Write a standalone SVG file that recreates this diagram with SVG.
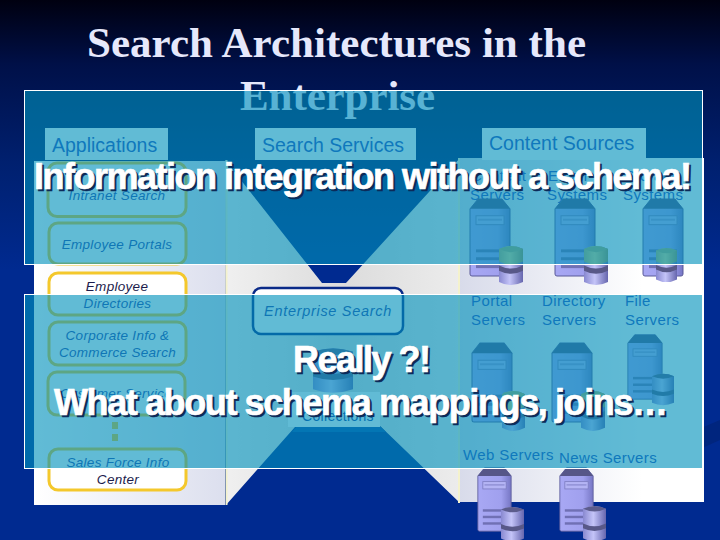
<svg xmlns="http://www.w3.org/2000/svg" xmlns:xlink="http://www.w3.org/1999/xlink" width="720" height="540" viewBox="0 0 720 540">
<defs>
<linearGradient id="bg" x1="0" y1="0" x2="0" y2="1"><stop offset="0" stop-color="#000010"/><stop offset="0.12" stop-color="#001048"/><stop offset="0.3" stop-color="#00206f"/><stop offset="0.5" stop-color="#002a90"/><stop offset="1" stop-color="#002a90"/></linearGradient>
<linearGradient id="pl" x1="0" y1="0" x2="1" y2="0"><stop offset="0" stop-color="#ffffff"/><stop offset="1" stop-color="#dcdfee"/></linearGradient>
<linearGradient id="pr" x1="0" y1="0" x2="1" y2="0"><stop offset="0" stop-color="#d8dbea"/><stop offset="0.75" stop-color="#ffffff"/></linearGradient>
<linearGradient id="pc" x1="0" y1="0" x2="1" y2="0"><stop offset="0" stop-color="#f0f0f0"/><stop offset="0.5" stop-color="#dcdcdc"/><stop offset="1" stop-color="#ececec"/></linearGradient>
<linearGradient id="srv" x1="0" y1="0" x2="1" y2="0"><stop offset="0" stop-color="#a8a8f4"/><stop offset="0.7" stop-color="#a0a0ee"/><stop offset="1" stop-color="#7676c4"/></linearGradient>
<linearGradient id="cyl" x1="0" y1="0" x2="1" y2="0"><stop offset="0" stop-color="#8888d0"/><stop offset="0.45" stop-color="#c4c4f8"/><stop offset="1" stop-color="#6666ae"/></linearGradient>
<linearGradient id="cyt" x1="0" y1="0" x2="1" y2="0"><stop offset="0" stop-color="#b0b070"/><stop offset="0.45" stop-color="#d8d888"/><stop offset="1" stop-color="#98985c"/></linearGradient>
<symbol id="server" viewBox="0 0 42 80" preserveAspectRatio="none">
<path d="M1 11 L9 1 H33 L41 11 V77 Q41 79 39 79 H3 Q1 79 1 77 Z" fill="url(#srv)" stroke="#5a5a98" stroke-width="1"/>
<path d="M1 11 L9 1 H33 L41 11 Z" fill="#565688"/>
<rect x="7" y="18" width="28" height="9" fill="#b4b4f4" stroke="#7c7cc0" stroke-width="1"/>
<rect x="9" y="21" width="24" height="2" fill="#9494d8"/>
<rect x="7" y="52" width="28" height="3" fill="#7070b4"/>
<rect x="7" y="60" width="28" height="3" fill="#7070b4"/>
<rect x="7" y="68" width="28" height="3" fill="#7070b4"/>
</symbol>
<symbol id="db" viewBox="0 0 24 40" preserveAspectRatio="none">
<path d="M0 4 Q12 -2 24 4 V36 Q12 42 0 36 Z" fill="url(#cyl)"/>
<path d="M0 4 Q12 -2 24 4 Q12 10 0 4 Z" fill="#5c5c8c"/>
<path d="M0 20 Q12 26 24 20 V25 Q12 31 0 25 Z" fill="#585888"/>
</symbol>
<symbol id="dbt" viewBox="0 0 24 40" preserveAspectRatio="none">
<path d="M0 4 Q12 -2 24 4 V36 Q12 42 0 36 Z" fill="url(#cyl)"/>
<path d="M0 4 Q12 -2 24 4 V16 Q12 22 0 16 Z" fill="url(#cyt)"/>
<path d="M0 4 Q12 -2 24 4 Q12 10 0 4 Z" fill="#a8b070"/>
<path d="M0 20 Q12 26 24 20 V25 Q12 31 0 25 Z" fill="#585888"/>
</symbol>
</defs>
<style>
.title{font-family:"Liberation Serif",serif;font-weight:bold;font-size:43px;fill:#e6e8fb}
.lab{font-family:"Liberation Sans",Arial,sans-serif;font-size:19.500px;fill:#2a50be}
.it{font-family:"Liberation Sans",Arial,sans-serif;font-style:italic;font-size:13.500px;letter-spacing:.3px;fill:#2a4aac;text-anchor:middle}
.dk{fill:#1c1c4c}
.src{font-family:"Liberation Sans",Arial,sans-serif;font-size:15px;letter-spacing:.4px;fill:#2a50be}
.big{font-family:"Liberation Sans",Arial,sans-serif;font-weight:bold;font-size:36px;fill:#fff;stroke:#fff;stroke-width:.7}
.sh{font-family:"Liberation Sans",Arial,sans-serif;font-weight:bold;font-size:36px;fill:#0c2a58;stroke:#0c2a58;stroke-width:.7}
.app{fill:#fff;stroke:#f4c82c;stroke-width:3}
.hd{fill:#fff}
.ov{fill:#0091bb;fill-opacity:.62;stroke:none}
.ol{fill:none;stroke:#fff;stroke-width:1}
</style>
<rect id="background" width="720" height="540" fill="url(#bg)"/>
<polygon points="680,437 720,420 720,440 680,458" fill="#00257e"/>
<g id="title-1"><text class="title" x="87" y="57" textLength="499" lengthAdjust="spacing">Search Architectures in the</text></g>
<g id="title-2"><text class="title" x="240" y="110" textLength="195" lengthAdjust="spacing">Enterprise</text></g>

<g id="panel-applications"><rect x="34" y="161" width="191" height="344" fill="url(#pl)"/></g>
<g id="panel-search"><polygon points="225,160 322,283 346,283 460,158 460,503 378,424 295,427 226,505" fill="url(#pc)"/><rect x="288" y="392" width="92" height="35" fill="#fff"/><polygon points="292,432 296,427 381,427 386,432" fill="#0a4aa8"/></g>
<g id="panel-content"><rect x="459" y="158" width="245" height="344" fill="url(#pr)"/></g>
<rect x="225.500" y="160" width="2" height="345" fill="#f4f2cc"/>
<rect x="458" y="158" width="2" height="345" fill="#f4f2cc"/>

<g id="label-applications"><rect class="hd" x="45" y="128" width="123" height="32"/><text class="lab" x="52" y="152">Applications</text></g>
<g id="label-search"><rect class="hd" x="255" y="128" width="161" height="32"/><text class="lab" x="262" y="152">Search Services</text></g>
<g id="label-content"><rect class="hd" x="482" y="128" width="164" height="32"/><text class="lab" x="489" y="150">Content Sources</text></g>

<g id="app-intranet"><rect class="app" x="48" y="163" width="138" height="53.500" rx="9"/><text class="it" x="117" y="200">Intranet Search</text></g>
<g id="app-portals"><rect class="app" x="49" y="223" width="137" height="41" rx="9"/><text class="it" x="117" y="249">Employee Portals</text></g>
<g id="app-directories"><rect class="app" x="49" y="273" width="137" height="42" rx="9"/><text class="it dk" x="117" y="291">Employee</text><text class="it" x="117.500" y="308">Directories</text></g>
<g id="app-corporate"><rect class="app" x="49" y="322" width="137" height="43" rx="9"/><text class="it" x="117.500" y="340">Corporate Info &amp;</text><text class="it" x="117.500" y="357">Commerce Search</text></g>
<g id="app-customer"><rect class="app" x="48" y="372" width="137" height="43" rx="9"/><text class="it" x="116" y="398">Customer Service</text></g>
<g id="app-dots"><rect x="112" y="422" width="6" height="7" fill="#f4c82c"/><rect x="112" y="434" width="6" height="7" fill="#f4c82c"/></g>
<g id="app-salesforce"><rect class="app" x="49" y="449" width="137" height="41" rx="9"/><text class="it" x="118" y="467">Sales Force Info</text><text class="it dk" x="118" y="484">Center</text></g>

<g id="enterprise-search"><rect x="253" y="288" width="150" height="46" rx="8" fill="#fff" stroke="#0a2a88" stroke-width="2.500"/><text class="it" x="328" y="316" style="font-size:14.500px;letter-spacing:.7px">Enterprise Search</text></g>
<g id="collections"><use xlink:href="#db" href="#db" x="313" y="347" width="40" height="47"/><text class="it" x="338" y="421" style="font-size:14px;font-style:normal;fill:#0f3ea0">Collections</text></g>

<g id="src-content"><text class="src" x="471" y="181">Content</text><text class="src" x="470" y="200">Servers</text><use xlink:href="#server" href="#server" x="469" y="198" width="42" height="79"/><use xlink:href="#dbt" href="#dbt" x="499" y="245" width="24" height="41"/></g>
<g id="src-email"><text class="src" x="548" y="181">Email</text><text class="src" x="547" y="200">Systems</text><use xlink:href="#server" href="#server" x="554" y="198" width="42" height="79"/><use xlink:href="#dbt" href="#dbt" x="584" y="245" width="24" height="41"/></g>
<g id="src-storage"><text class="src" x="625" y="181">Storage</text><text class="src" x="623" y="200">Systems</text><use xlink:href="#server" href="#server" x="642" y="198" width="42" height="79"/><use xlink:href="#dbt" href="#dbt" x="656" y="247" width="21" height="36"/></g>
<g id="src-portal"><text class="src" x="471" y="306">Portal</text><text class="src" x="471" y="325">Servers</text><use xlink:href="#server" href="#server" x="471" y="342" width="42" height="81"/><use xlink:href="#dbt" href="#dbt" x="502" y="390" width="23" height="42"/></g>
<g id="src-directory"><text class="src" x="542" y="306">Directory</text><text class="src" x="542" y="325">Servers</text><use xlink:href="#server" href="#server" x="551" y="342" width="42" height="81"/><use xlink:href="#dbt" href="#dbt" x="581" y="390" width="24" height="42"/></g>
<g id="src-file"><text class="src" x="625" y="306">File</text><text class="src" x="625" y="325">Servers</text><use xlink:href="#server" href="#server" x="627" y="334" width="36" height="66"/><use xlink:href="#db" href="#db" x="652" y="373" width="22" height="33"/></g>
<g id="src-web"><text class="src" x="463" y="460">Web Servers</text><use xlink:href="#server" href="#server" x="477" y="467" width="35" height="65"/><use xlink:href="#db" href="#db" x="501" y="506" width="23" height="36"/></g>
<g id="src-news"><text class="src" x="559" y="463">News Servers</text><use xlink:href="#server" href="#server" x="559" y="467" width="35" height="65"/><use xlink:href="#db" href="#db" x="583" y="505" width="23" height="37"/></g>

<g id="overlays">
<rect class="ov" x="25" y="91" width="678" height="173.500"/><rect class="ol" x="24.500" y="90.500" width="678" height="174"/>
<rect class="ov" x="25" y="295" width="678" height="173"/><rect class="ol" x="24.500" y="294.500" width="678" height="174"/>
</g>
<g id="connectors"></g>
<g id="callouts">
<text class="sh" x="36" y="191" textLength="658" lengthAdjust="spacing">Information integration without a schema!</text>
<text class="big" x="34" y="189" textLength="658" lengthAdjust="spacing">Information integration without a schema!</text>
<text class="sh" x="295" y="374" textLength="138" lengthAdjust="spacing">Really ?!</text>
<text class="big" x="293" y="372" textLength="138" lengthAdjust="spacing">Really ?!</text>
<text class="sh" x="56" y="417" textLength="614" lengthAdjust="spacing">What about schema mappings, joins…</text>
<text class="big" x="54" y="415" textLength="614" lengthAdjust="spacing">What about schema mappings, joins…</text>
</g>
</svg>
